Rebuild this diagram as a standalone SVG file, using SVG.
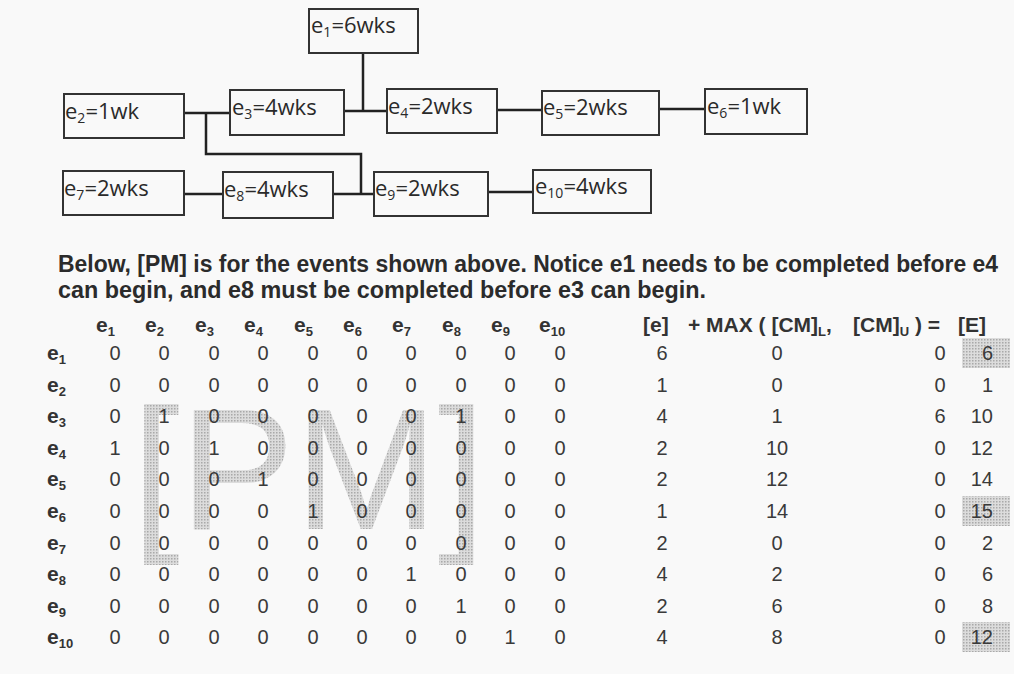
<svg xmlns="http://www.w3.org/2000/svg" width="1014" height="674" viewBox="0 0 1014 674">
<defs>
<pattern id="dots" width="3" height="3" patternUnits="userSpaceOnUse">
<rect width="3" height="3" fill="#dcdcdc"/>
<rect width="1.5" height="1.5" fill="#a9a9a9"/>
</pattern>
</defs>
<style>
.box{fill:none;stroke:#333;stroke-width:2}
.bl{font-family:"Open Sans","Liberation Sans",sans-serif;font-size:22px;fill:#2a2a2a}
.sb{font-size:14px}
.con{fill:none;stroke:#222;stroke-width:2.5}
.para{font-family:"Liberation Sans",Arial,sans-serif;font-size:23px;font-weight:bold;fill:#2b2b2b}
.hd{font-family:"Liberation Sans",Arial,sans-serif;font-size:21px;font-weight:bold;fill:#333}
.hs{font-size:13px}
.num{font-family:"Liberation Sans",Arial,sans-serif;font-size:20px;fill:#3a3a3a;text-anchor:middle}
.end{text-anchor:end}
.wm{font-family:"Liberation Sans",Arial,sans-serif;font-size:172px;fill:url(#dots)}
</style>
<rect width="1014" height="674" fill="#f9f9f9"/>

<g id="connectors">
<path class="con" d="M184,113H230"/>
<path class="con" d="M206,113V154H361V194"/>
<path class="con" d="M184,194H223"/>
<path class="con" d="M333,194H374"/>
<path class="con" d="M344,111H387"/>
<path class="con" d="M363,53V111"/>
<path class="con" d="M497,110H542"/>
<path class="con" d="M659,109H705"/>
<path class="con" d="M488,192H533"/>
</g>

<g id="e1"><rect class="box" x="309" y="9" width="109" height="44"/><text class="bl" x="311" y="33">e<tspan class="sb" dy="4">1</tspan><tspan dy="-4">=6wks</tspan></text></g>
<g id="e2"><rect class="box" x="64" y="94" width="120" height="44"/><text class="bl" x="65" y="119">e<tspan class="sb" dy="4">2</tspan><tspan dy="-4">=1wk</tspan></text></g>
<g id="e3"><rect class="box" x="230" y="90" width="114" height="45"/><text class="bl" x="232" y="115">e<tspan class="sb" dy="4">3</tspan><tspan dy="-4">=4wks</tspan></text></g>
<g id="e4"><rect class="box" x="387" y="89" width="110" height="44"/><text class="bl" x="388" y="114">e<tspan class="sb" dy="4">4</tspan><tspan dy="-4">=2wks</tspan></text></g>
<g id="e5"><rect class="box" x="542" y="91" width="117" height="44"/><text class="bl" x="543" y="115">e<tspan class="sb" dy="4">5</tspan><tspan dy="-4">=2wks</tspan></text></g>
<g id="e6"><rect class="box" x="705" y="89" width="102" height="45"/><text class="bl" x="707" y="114">e<tspan class="sb" dy="4">6</tspan><tspan dy="-4">=1wk</tspan></text></g>
<g id="e7"><rect class="box" x="63" y="171" width="121" height="44"/><text class="bl" x="64" y="196">e<tspan class="sb" dy="4">7</tspan><tspan dy="-4">=2wks</tspan></text></g>
<g id="e8"><rect class="box" x="223" y="172" width="110" height="46"/><text class="bl" x="224" y="197">e<tspan class="sb" dy="4">8</tspan><tspan dy="-4">=4wks</tspan></text></g>
<g id="e9"><rect class="box" x="374" y="172" width="114" height="44"/><text class="bl" x="375" y="196">e<tspan class="sb" dy="4">9</tspan><tspan dy="-4">=2wks</tspan></text></g>
<g id="e10"><rect class="box" x="533" y="170" width="118" height="43"/><text class="bl" x="535" y="194">e<tspan class="sb" dy="4">10</tspan><tspan dy="-4">=4wks</tspan></text></g>

<g id="caption">
<text class="para" x="58" y="272" textLength="940" lengthAdjust="spacingAndGlyphs">Below, [PM] is for the events shown above. Notice e1 needs to be completed before e4</text>
<text class="para" x="58" y="298" textLength="648" lengthAdjust="spacingAndGlyphs">can begin, and e8 must be completed before e3 can begin.</text>
</g>

<g id="watermark">
<text class="wm" x="132" y="529">[PM]</text>
</g>

<g id="shading">
<rect x="962" y="338" width="48" height="30" fill="url(#dots)"/>
<rect x="962" y="496" width="48" height="30" fill="url(#dots)"/>
<rect x="962" y="622" width="48" height="30" fill="url(#dots)"/>
</g>

<g id="header">
<text class="hd" x="96" y="332">e<tspan class="hs" dy="4">1</tspan></text>
<text class="hd" x="145" y="332">e<tspan class="hs" dy="4">2</tspan></text>
<text class="hd" x="195" y="332">e<tspan class="hs" dy="4">3</tspan></text>
<text class="hd" x="244" y="332">e<tspan class="hs" dy="4">4</tspan></text>
<text class="hd" x="294" y="332">e<tspan class="hs" dy="4">5</tspan></text>
<text class="hd" x="343" y="332">e<tspan class="hs" dy="4">6</tspan></text>
<text class="hd" x="392" y="332">e<tspan class="hs" dy="4">7</tspan></text>
<text class="hd" x="442" y="332">e<tspan class="hs" dy="4">8</tspan></text>
<text class="hd" x="491" y="332">e<tspan class="hs" dy="4">9</tspan></text>
<text class="hd" x="539" y="332">e<tspan class="hs" dy="4">10</tspan></text>
<text class="hd" x="643" y="332">[e]</text>
<text class="hd" x="688" y="332">+ MAX ( [CM]<tspan class="hs" dy="4">L</tspan><tspan dy="-4">,</tspan></text>
<text class="hd" x="853" y="332">[CM]<tspan class="hs" dy="4">U</tspan><tspan dy="-4"> ) =</tspan></text>
<text class="hd" x="958" y="332">[E]</text>
</g>

<g id="rowlabels">
<text class="hd" x="47" y="360">e<tspan class="hs" dy="4">1</tspan></text>
<text class="hd" x="47" y="392">e<tspan class="hs" dy="4">2</tspan></text>
<text class="hd" x="47" y="423">e<tspan class="hs" dy="4">3</tspan></text>
<text class="hd" x="47" y="455">e<tspan class="hs" dy="4">4</tspan></text>
<text class="hd" x="47" y="486">e<tspan class="hs" dy="4">5</tspan></text>
<text class="hd" x="47" y="518">e<tspan class="hs" dy="4">6</tspan></text>
<text class="hd" x="47" y="550">e<tspan class="hs" dy="4">7</tspan></text>
<text class="hd" x="47" y="581">e<tspan class="hs" dy="4">8</tspan></text>
<text class="hd" x="47" y="613">e<tspan class="hs" dy="4">9</tspan></text>
<text class="hd" x="47" y="644">e<tspan class="hs" dy="4">10</tspan></text>
</g>

<g id="matrix">
<text class="num" y="360"><tspan x="115">0</tspan><tspan x="164">0</tspan><tspan x="214">0</tspan><tspan x="263">0</tspan><tspan x="313">0</tspan><tspan x="362">0</tspan><tspan x="411">0</tspan><tspan x="461">0</tspan><tspan x="510">0</tspan><tspan x="560">0</tspan></text>
<text class="num" y="392"><tspan x="115">0</tspan><tspan x="164">0</tspan><tspan x="214">0</tspan><tspan x="263">0</tspan><tspan x="313">0</tspan><tspan x="362">0</tspan><tspan x="411">0</tspan><tspan x="461">0</tspan><tspan x="510">0</tspan><tspan x="560">0</tspan></text>
<text class="num" y="423"><tspan x="115">0</tspan><tspan x="164">1</tspan><tspan x="214">0</tspan><tspan x="263">0</tspan><tspan x="313">0</tspan><tspan x="362">0</tspan><tspan x="411">0</tspan><tspan x="461">1</tspan><tspan x="510">0</tspan><tspan x="560">0</tspan></text>
<text class="num" y="455"><tspan x="115">1</tspan><tspan x="164">0</tspan><tspan x="214">1</tspan><tspan x="263">0</tspan><tspan x="313">0</tspan><tspan x="362">0</tspan><tspan x="411">0</tspan><tspan x="461">0</tspan><tspan x="510">0</tspan><tspan x="560">0</tspan></text>
<text class="num" y="486"><tspan x="115">0</tspan><tspan x="164">0</tspan><tspan x="214">0</tspan><tspan x="263">1</tspan><tspan x="313">0</tspan><tspan x="362">0</tspan><tspan x="411">0</tspan><tspan x="461">0</tspan><tspan x="510">0</tspan><tspan x="560">0</tspan></text>
<text class="num" y="518"><tspan x="115">0</tspan><tspan x="164">0</tspan><tspan x="214">0</tspan><tspan x="263">0</tspan><tspan x="313">1</tspan><tspan x="362">0</tspan><tspan x="411">0</tspan><tspan x="461">0</tspan><tspan x="510">0</tspan><tspan x="560">0</tspan></text>
<text class="num" y="550"><tspan x="115">0</tspan><tspan x="164">0</tspan><tspan x="214">0</tspan><tspan x="263">0</tspan><tspan x="313">0</tspan><tspan x="362">0</tspan><tspan x="411">0</tspan><tspan x="461">0</tspan><tspan x="510">0</tspan><tspan x="560">0</tspan></text>
<text class="num" y="581"><tspan x="115">0</tspan><tspan x="164">0</tspan><tspan x="214">0</tspan><tspan x="263">0</tspan><tspan x="313">0</tspan><tspan x="362">0</tspan><tspan x="411">1</tspan><tspan x="461">0</tspan><tspan x="510">0</tspan><tspan x="560">0</tspan></text>
<text class="num" y="613"><tspan x="115">0</tspan><tspan x="164">0</tspan><tspan x="214">0</tspan><tspan x="263">0</tspan><tspan x="313">0</tspan><tspan x="362">0</tspan><tspan x="411">0</tspan><tspan x="461">1</tspan><tspan x="510">0</tspan><tspan x="560">0</tspan></text>
<text class="num" y="644"><tspan x="115">0</tspan><tspan x="164">0</tspan><tspan x="214">0</tspan><tspan x="263">0</tspan><tspan x="313">0</tspan><tspan x="362">0</tspan><tspan x="411">0</tspan><tspan x="461">0</tspan><tspan x="510">1</tspan><tspan x="560">0</tspan></text>
</g>

<g id="results">
<text class="num" y="360"><tspan x="662">6</tspan><tspan x="777">0</tspan><tspan x="940">0</tspan></text>
<text class="num" y="392"><tspan x="662">1</tspan><tspan x="777">0</tspan><tspan x="940">0</tspan></text>
<text class="num" y="423"><tspan x="662">4</tspan><tspan x="777">1</tspan><tspan x="940">6</tspan></text>
<text class="num" y="455"><tspan x="662">2</tspan><tspan x="777">10</tspan><tspan x="940">0</tspan></text>
<text class="num" y="486"><tspan x="662">2</tspan><tspan x="777">12</tspan><tspan x="940">0</tspan></text>
<text class="num" y="518"><tspan x="662">1</tspan><tspan x="777">14</tspan><tspan x="940">0</tspan></text>
<text class="num" y="550"><tspan x="662">2</tspan><tspan x="777">0</tspan><tspan x="940">0</tspan></text>
<text class="num" y="581"><tspan x="662">4</tspan><tspan x="777">2</tspan><tspan x="940">0</tspan></text>
<text class="num" y="613"><tspan x="662">2</tspan><tspan x="777">6</tspan><tspan x="940">0</tspan></text>
<text class="num" y="644"><tspan x="662">4</tspan><tspan x="777">8</tspan><tspan x="940">0</tspan></text>
<text class="num end" x="993" y="360">6</text>
<text class="num end" x="993" y="392">1</text>
<text class="num end" x="993" y="423">10</text>
<text class="num end" x="993" y="455">12</text>
<text class="num end" x="993" y="486">14</text>
<text class="num end" x="993" y="518">15</text>
<text class="num end" x="993" y="550">2</text>
<text class="num end" x="993" y="581">6</text>
<text class="num end" x="993" y="613">8</text>
<text class="num end" x="993" y="644">12</text>
</g>
</svg>
